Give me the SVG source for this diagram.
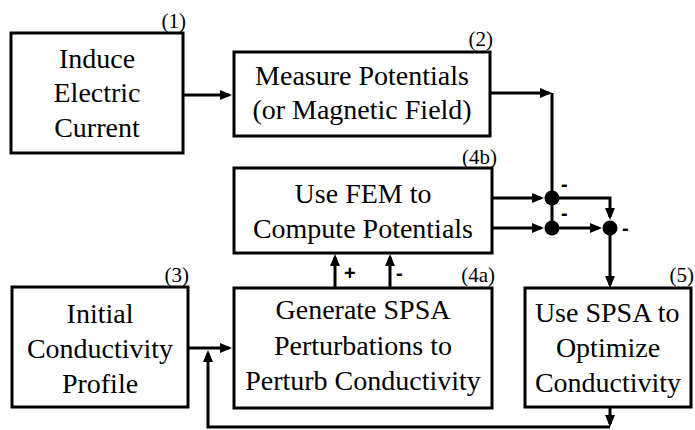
<svg xmlns="http://www.w3.org/2000/svg" width="695" height="430" viewBox="0 0 695 430">
<defs>
<marker id="ah" viewBox="0 0 12 10" refX="9" refY="5" markerWidth="12" markerHeight="10" markerUnits="userSpaceOnUse" orient="auto">
<path d="M0,0 L12,5 L0,10 z" fill="#000"/>
</marker>
</defs>
<rect width="695" height="430" fill="#fff"/>
<g id="connectors" fill="none" stroke="#000" stroke-width="3">
<path marker-end="url(#ah)" d="M183,95 H229"/>
<path marker-end="url(#ah)" d="M490,93 H549"/>
<path d="M552,93 V198"/>
<path marker-end="url(#ah)" d="M492,198 H541"/>
<path marker-end="url(#ah)" d="M492,228 H541"/>
<path d="M552,198 V228"/>
<path marker-end="url(#ah)" d="M552,198 H610 V217"/>
<path marker-end="url(#ah)" d="M552,228 H599"/>
<path marker-end="url(#ah)" d="M610,228 V285"/>
<path marker-end="url(#ah)" d="M188,348 H229"/>
<path marker-end="url(#ah)" d="M610,407 V424"/>
<path marker-end="url(#ah)" d="M610,427 H208 V353"/>
<path marker-end="url(#ah)" d="M335,288 V257"/>
<path marker-end="url(#ah)" d="M390,288 V257"/>
<circle cx="552" cy="198" r="7.5" fill="#000" stroke="none"/>
<circle cx="552" cy="228" r="7.5" fill="#000" stroke="none"/>
<circle cx="610" cy="228" r="7.5" fill="#000" stroke="none"/>
</g>
<text x="344" y="280" font-family="Liberation Sans" font-size="20" font-weight="bold">+</text>
<text x="396" y="280" font-family="Liberation Sans" font-size="20" font-weight="bold">-</text>
<text x="561" y="191" font-family="Liberation Sans" font-size="20" font-weight="bold">-</text>
<text x="561" y="220" font-family="Liberation Sans" font-size="20" font-weight="bold">-</text>
<text x="622" y="235" font-family="Liberation Sans" font-size="20" font-weight="bold">-</text>
<g id="n1">
<rect x="11" y="33" width="172" height="120" fill="#fff" stroke="#000" stroke-width="3"/>
<text x="58.9" y="68" font-family="Liberation Serif" font-size="28">Induce</text>
<text x="53.5" y="102" font-family="Liberation Serif" font-size="28">Electric</text>
<text x="54.2" y="137" font-family="Liberation Serif" font-size="28">Current</text>
<text x="161.5" y="28" font-family="Liberation Serif" font-size="21">(1)</text>
</g>
<g id="n2">
<rect x="234" y="52" width="256" height="84" fill="#fff" stroke="#000" stroke-width="3"/>
<text x="255.1" y="85" font-family="Liberation Serif" font-size="28">Measure Potentials</text>
<text x="252.4" y="119" font-family="Liberation Serif" font-size="28">(or Magnetic Field)</text>
<text x="468.5" y="46" font-family="Liberation Serif" font-size="21">(2)</text>
</g>
<g id="n4b">
<rect x="234" y="168" width="258" height="85" fill="#fff" stroke="#000" stroke-width="3"/>
<text x="294.6" y="203" font-family="Liberation Serif" font-size="28">Use FEM to</text>
<text x="252.9" y="238" font-family="Liberation Serif" font-size="28">Compute Potentials</text>
<text x="462" y="164" font-family="Liberation Serif" font-size="21">(4b)</text>
</g>
<g id="n3">
<rect x="12" y="287" width="176" height="120" fill="#fff" stroke="#000" stroke-width="3"/>
<text x="66.6" y="323" font-family="Liberation Serif" font-size="28">Initial</text>
<text x="26.9" y="358" font-family="Liberation Serif" font-size="28">Conductivity</text>
<text x="61.9" y="393" font-family="Liberation Serif" font-size="28">Profile</text>
<text x="164.5" y="282" font-family="Liberation Serif" font-size="21">(3)</text>
</g>
<g id="n4a">
<rect x="234" y="288" width="258" height="120" fill="#fff" stroke="#000" stroke-width="3"/>
<text x="275.5" y="319" font-family="Liberation Serif" font-size="28">Generate SPSA</text>
<text x="273.9" y="355" font-family="Liberation Serif" font-size="28">Perturbations to</text>
<text x="245.2" y="390" font-family="Liberation Serif" font-size="28">Perturb Conductivity</text>
<text x="461.2" y="282" font-family="Liberation Serif" font-size="21">(4a)</text>
</g>
<g id="n5">
<rect x="525" y="288" width="166" height="119" fill="#fff" stroke="#000" stroke-width="3"/>
<text x="534.9" y="322" font-family="Liberation Serif" font-size="28">Use SPSA to</text>
<text x="555.9" y="357" font-family="Liberation Serif" font-size="28">Optimize</text>
<text x="534.9" y="392" font-family="Liberation Serif" font-size="28">Conductivity</text>
<text x="669.5" y="282" font-family="Liberation Serif" font-size="21">(5)</text>
</g>
</svg>
